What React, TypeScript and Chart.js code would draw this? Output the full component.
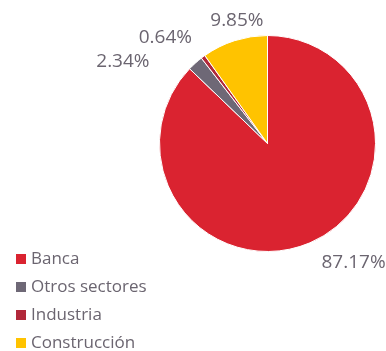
import React, { useEffect, useRef } from "react";
import { Chart, registerables } from "chart.js";

Chart.register(...registerables);

const categories = ["Banca", "Otros sectores", "Industria", "Construcción"];
const values = [87.17, 2.34, 0.64, 9.85];
const valueLabels = ["87.17%", "2.34%", "0.64%", "9.85%"];
const colors = ["#DA2330", "#6E6876", "#B1283A", "#FFC300"];

const TEXT_COLOR = "#6B6570";
const FONT = "'Open Sans', Roboto, sans-serif";
// pixel nudges for the outside labels (style only)
const LABEL_NUDGE: [number, number][] = [
  [3, 0],
  [-31, 15],
  [2, -2],
  [9, 1],
];

const labelPlugin = {
  id: "outsideLabels",
  afterDraw(chart: any) {
    const ctx = chart.ctx;
    const meta = chart.getDatasetMeta(0);
    ctx.save();
    ctx.font = `19px ${FONT}`;
    ctx.fillStyle = TEXT_COLOR;
    ctx.textBaseline = "middle";
    meta.data.forEach((arc: any, i: number) => {
      const { x, y, startAngle, endAngle, outerRadius } = arc.getProps(
        ["x", "y", "startAngle", "endAngle", "outerRadius"],
        true
      );
      const mid = (startAngle + endAngle) / 2;
      const dx = Math.cos(mid);
      const dy = Math.sin(mid);
      const R = outerRadius + 22;
      const ax = x + dx * R;
      const ay = y + dy * R;
      ctx.textAlign = dx > 0.35 ? "left" : dx < -0.35 ? "right" : "center";
      const n = LABEL_NUDGE[i] || [0, 0];
      ctx.fillText(valueLabels[i], ax + n[0], ay + n[1]);
    });

    // legend
    ctx.font = `17px ${FONT}`;
    ctx.textAlign = "left";
    const x0 = 16;
    const y0 = 259;
    const step = 28;
    categories.forEach((c, i) => {
      const cy = y0 + i * step;
      ctx.fillStyle = colors[i];
      ctx.fillRect(x0, cy - 5, 10, 10);
      ctx.fillStyle = TEXT_COLOR;
      ctx.fillText(c, x0 + 15, cy);
    });
    ctx.restore();
  },
};

export default function App() {
  const ref = useRef<HTMLCanvasElement>(null);
  useEffect(() => {
    if (!ref.current) return;
    const chart = new Chart(ref.current, {
      type: "pie",
      data: {
        labels: categories,
        datasets: [
          {
            data: values,
            backgroundColor: colors,
            borderColor: "#FFFFFF",
            borderWidth: 1,
          },
        ],
      },
      options: {
        animation: false,
        responsive: true,
        maintainAspectRatio: false,
        layout: { padding: { left: 159, right: 10, top: 35, bottom: 99 } },
        plugins: {
          legend: { display: false },
          tooltip: { enabled: false },
        },
      },
      plugins: [labelPlugin],
    });
    return () => chart.destroy();
  }, []);
  return (
    <div
      style={{
        position: "absolute",
        left: 0,
        top: 0,
        width: 386,
        height: 351,
        background: "#FFFFFF",
      }}
    >
      <canvas ref={ref} />
    </div>
  );
}
